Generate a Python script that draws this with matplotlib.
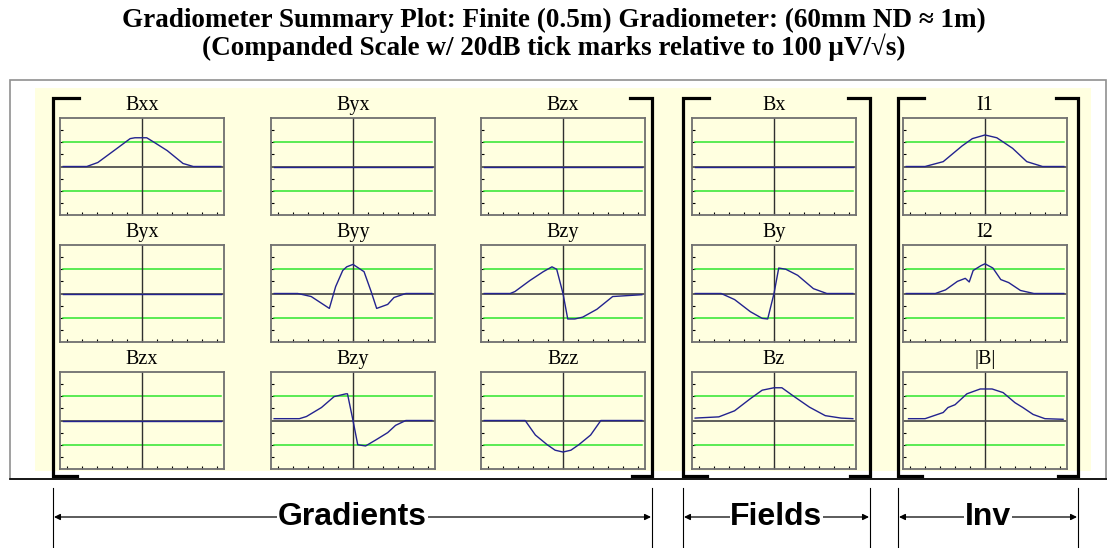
import numpy as np
import matplotlib.pyplot as plt

# ---- data (x: -1..1 across panel, y: companded units, 20dB per tick)
flat_x = [-1.0, 1.0]
flat_y = [0.0, 0.0]

bxx_x = [-1.0, -0.70, -0.56, -0.32, -0.15, -0.09, 0.06, 0.16, 0.32, 0.52, 0.65, 1.0]
bxx_y = [0.0, 0.0, 0.33, 1.48, 2.3, 2.37, 2.37, 1.97, 1.31, 0.25, 0.0, 0.0]

byy_x = [-1.0, -0.70, -0.53, -0.30, -0.22, -0.13, -0.08, 0.0, 0.14, 0.23, 0.30, 0.44, 0.52, 0.67, 1.0]
byy_y = [0.0, 0.0, -0.25, -1.23, 0.57, 1.9, 2.2, 2.4, 1.8, 0.16, -1.23, -0.9, -0.33, 0.0, 0.0]

bzy2_x = [-1.0, -0.67, -0.61, -0.42, -0.25, -0.14, -0.08, 0.0, 0.06, 0.15, 0.25, 0.43, 0.63, 1.0]
bzy2_y = [0.0, 0.0, 0.16, 1.07, 1.8, 2.2, 2.0, 0.0, -2.1, -2.1, -1.95, -1.3, -0.25, -0.1]

bzy3_x = [-1.0, -0.68, -0.59, -0.40, -0.24, -0.09, -0.07, 0.0, 0.06, 0.16, 0.29, 0.44, 0.54, 0.67, 1.0]
bzy3_y = [0.15, 0.15, 0.33, 1.07, 1.97, 2.2, 2.2, 0.0, -2.0, -2.1, -1.6, -1.0, -0.4, 0.0, 0.0]

bzz_x = [-1.0, -0.48, -0.35, -0.20, -0.10, 0.0, 0.10, 0.20, 0.35, 0.48, 1.0]
bzz_y = [0.0, 0.0, -1.2, -2.0, -2.45, -2.6, -2.45, -2.0, -1.2, 0.0, 0.0]

by_x = [-1.0, -0.67, -0.50, -0.30, -0.15, -0.08, 0.0, 0.06, 0.15, 0.30, 0.50, 0.67, 1.0]
by_y = [0.0, 0.0, -0.5, -1.5, -2.05, -2.1, 0.0, 2.1, 2.0, 1.5, 0.4, 0.0, 0.0]

bz_x = [-1.0, -0.70, -0.50, -0.30, -0.15, 0.0, 0.10, 0.25, 0.45, 0.65, 0.85, 1.0]
bz_y = [0.2, 0.3, 0.8, 1.8, 2.5, 2.7, 2.7, 2.0, 1.1, 0.4, 0.2, 0.15]

i1_x = [-1.0, -0.76, -0.53, -0.29, -0.16, 0.0, 0.15, 0.35, 0.53, 0.73, 1.0]
i1_y = [0.0, 0.0, 0.4, 1.7, 2.3, 2.6, 2.37, 1.5, 0.4, 0.0, 0.0]

i2_x = [-1.0, -0.63, -0.50, -0.35, -0.25, -0.20, -0.15, -0.05, 0.0, 0.10, 0.20, 0.30, 0.45, 0.62, 1.0]
i2_y = [0.0, 0.0, 0.3, 1.0, 1.25, 0.95, 1.9, 2.3, 2.45, 2.1, 1.15, 0.9, 0.25, 0.0, 0.0]

babs_x = [-0.97, -0.76, -0.53, -0.47, -0.38, -0.23, -0.06, 0.09, 0.23, 0.38, 0.48, 0.61, 0.76, 0.99]
babs_y = [0.15, 0.15, 0.66, 1.07, 1.3, 2.2, 2.6, 2.6, 2.3, 1.47, 1.07, 0.5, 0.15, 0.1]

# (title, x, y, column, row)
panels = [
    ("Bxx", bxx_x, bxx_y, 0, 0), ("Byx", flat_x, flat_y, 1, 0), ("Bzx", flat_x, flat_y, 2, 0),
    ("Byx", flat_x, flat_y, 0, 1), ("Byy", byy_x, byy_y, 1, 1), ("Bzy", bzy2_x, bzy2_y, 2, 1),
    ("Bzx", flat_x, flat_y, 0, 2), ("Bzy", bzy3_x, bzy3_y, 1, 2), ("Bzz", bzz_x, bzz_y, 2, 2),
    ("Bx", flat_x, flat_y, 3, 0), ("By", by_x, by_y, 3, 1), ("Bz", bz_x, bz_y, 3, 2),
    ("I1", i1_x, i1_y, 4, 0), ("I2", i2_x, i2_y, 4, 1), ("|B|", babs_x, babs_y, 4, 2),
]

groups = ["Gradients", "Fields", "Inv"]

title1 = "Gradiometer Summary Plot: Finite (0.5m) Gradiometer: (60mm ND \u2248 1m)"
title2 = "(Companded Scale w/ 20dB tick marks relative to 100 \u03bcV/\u221as)"

# ---- layout (pixels)
W, H = 1107, 548
col_left = [60, 271, 481, 692, 903]
row_top = [118, 245, 372]
pw, ph = 164, 97
bracket_x = [(53, 652), (683, 870), (898, 1078)]

BLUE = "#23238f"
GREEN = "#2ee62e"
YELLOW = "#ffffe0"

fig = plt.figure(figsize=(W / 100, H / 100), dpi=100)
bg = fig.add_axes([0, 0, 1, 1])
bg.set_xlim(0, W)
bg.set_ylim(H, 0)
bg.axis("off")

serif = ["Liberation Serif", "DejaVu Serif"]
fig.text(0.5, 1 - 20 / H, title1, ha="center", va="center", fontsize=19.5,
         fontweight="bold", family=serif)
fig.text(0.5, 1 - 47 / H, title2, ha="center", va="center", fontsize=19.5,
         fontweight="bold", family=serif)

# outer frame and background
bg.add_patch(plt.Rectangle((10, 80), 1096, 399, fill=False, ec="#909090", lw=1.2))
bg.plot([10, W], [479, 479], color="black", lw=1.2)
bg.add_patch(plt.Rectangle((35, 88), 1056, 383, fc=YELLOW, ec="none"))

# brackets
for xl, xr in bracket_x:
    bg.plot([xl + 26, xl, xl, xl + 24], [98, 98, 476, 476], color="black", lw=2.3,
            solid_joinstyle="miter")
    bg.plot([xr - 22, xr, xr, xr - 20], [98, 98, 476, 476], color="black", lw=2.3,
            solid_joinstyle="miter")

# bottom group labels with arrows
for (xl, xr), name in zip(bracket_x, groups):
    for xx in (xl, xr):
        bg.plot([xx, xx], [488, 548], color="black", lw=0.8)
    bg.annotate("", xy=(xr - 1, 517), xytext=(xl + 1, 517),
                arrowprops=dict(arrowstyle="<|-|>", color="black", lw=0.9,
                                mutation_scale=9, shrinkA=0, shrinkB=0))
    bg.text((xl + xr) / 2, 517, name, ha="center", va="center", fontsize=23,
            fontweight="bold", family="Liberation Sans",
            bbox=dict(fc="white", ec="none", pad=0.5))

for title, x, y, c, r in panels:
    left, top = col_left[c], row_top[r]
    ax = fig.add_axes([left / W, 1 - (top + ph) / H, pw / W, ph / H])
    ax.set_facecolor("none")
    ax.set_xlim(-1.04, 1.04)
    ax.set_ylim(-4, 4)
    ax.plot([-1, 1], [2, 2], color=GREEN, lw=1.1)
    ax.plot([-1, 1], [-2, -2], color=GREEN, lw=1.1)
    ax.axvline(0, color="#303030", lw=1.0)
    ax.axhline(0, color="#505050", lw=1.3)
    ax.plot(x, y, color=BLUE, lw=1.0)
    ax.set_yticks([-3, -2, -1, 1, 2, 3])
    ax.set_xticks(np.linspace(-0.95, 0.95, 11))
    ax.tick_params(direction="in", length=2.5, width=0.8, labelleft=False,
                   labelbottom=False, color="black")
    for s in ax.spines.values():
        s.set_color("#707070")
        s.set_linewidth(1.3)
    ax.text(0.5, 1 + 8 / ph, title, transform=ax.transAxes, ha="center",
            va="baseline", fontsize=14.5, family=serif)

fig.savefig("out.png", dpi=100)
